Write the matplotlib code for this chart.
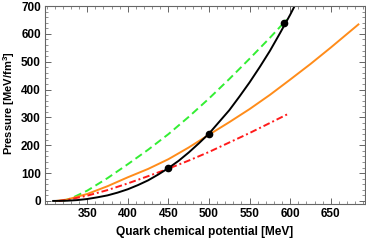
import numpy as np
import matplotlib.pyplot as plt
from matplotlib.ticker import MultipleLocator

# quark chemical potential [MeV] and pressure [MeV/fm^3]
mu_black = [308, 325, 337.5, 350, 362.5, 375, 387.5, 400, 412.5, 425, 437.5, 450, 462.5,
            475, 487.5, 500, 512.5, 525, 537.5, 550, 562.5, 575, 587.5, 600, 610]
p_black = [0, 0.8, 3, 7, 13, 20, 30, 42, 57, 74, 95, 118, 144,
           174, 207, 242, 284, 326, 375, 426, 481, 539, 603, 669, 726]

mu_green = [320, 330, 350, 375, 400, 425, 450, 475, 500, 525, 550, 575, 596]
p_green = [0, 9, 37, 82, 132, 184, 240, 302, 368, 438, 511, 586, 652]

mu_orange = [312, 325, 350, 375, 400, 425, 450, 475, 500, 525, 550, 575, 600, 625, 650, 675, 684]
p_orange = [0, 5, 25, 53, 85, 115, 150, 192, 238, 283, 330, 381, 436, 492, 551, 612, 634]

mu_red = [315, 325, 350, 375, 400, 425, 450, 475, 500, 525, 550, 575, 597]
p_red = [0, 3.4, 19, 39, 63, 89, 116, 145, 176, 210, 244, 280, 312]

mu_dots = [450, 500, 592]
p_dots = [118, 242, 640]

plt.rcParams['font.family'] = ['Liberation Sans', 'DejaVu Sans']
plt.rcParams['mathtext.fontset'] = 'custom'
plt.rcParams['mathtext.bf'] = 'Liberation Sans:bold'

fig = plt.figure(figsize=(3.66, 2.42), dpi=100)
ax = fig.add_axes([0.123, 0.157, 0.874, 0.818])

ax.plot(mu_green, p_green, color='#33ee33', lw=1.4, ls=(0, (4, 2.2)))
ax.plot(mu_orange, p_orange, color='#ff8c1a', lw=1.4)
ax.plot(mu_red, p_red, color='#ff1a1a', lw=1.4, ls=(0, (3.5, 1.5, 1, 1.5)))
ax.plot(mu_black, p_black, color='black', lw=1.4)
ax.plot(mu_dots, p_dots, 'o', color='black', ms=4.5)

ax.set_xlim(298, 692)
ax.set_ylim(-11, 700)
ax.xaxis.set_major_locator(MultipleLocator(50))
ax.xaxis.set_minor_locator(MultipleLocator(10))
ax.yaxis.set_major_locator(MultipleLocator(100))
ax.yaxis.set_minor_locator(MultipleLocator(20))
ax.set_xticks(range(350, 700, 50))

for s in ax.spines.values():
    s.set_color('#666666')
    s.set_linewidth(0.8)
ax.tick_params(which='both', direction='in', top=True, right=True, color='#666666',
               labelsize=8.5, pad=3)
ax.tick_params(which='major', length=4, width=0.7)
ax.tick_params(which='minor', length=2, width=0.5)
for lab in ax.get_xticklabels() + ax.get_yticklabels():
    lab.set_fontweight('bold')

ax.set_xlabel('Quark chemical potential [MeV]', fontsize=8.6, fontweight='bold', labelpad=4)
ax.set_ylabel('Pressure [MeV/fm$^{\\mathbf{3}}$]', fontsize=8, fontweight='bold')
ax.yaxis.set_label_coords(-0.088, 0.51)

fig.savefig('out.png', dpi=100)
